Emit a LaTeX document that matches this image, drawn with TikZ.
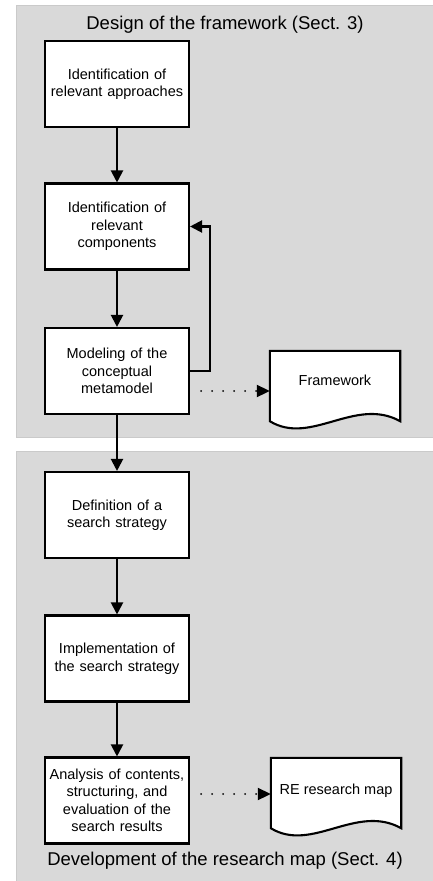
\documentclass[tikz,border=0pt]{standalone}
\usepackage{fontspec}
\setmainfont{Liberation Sans}
\usetikzlibrary{arrows.meta,calc}
\definecolor{panelfill}{HTML}{D9D9D9}
\definecolor{panelline}{HTML}{CACACA}
\begin{document}
\begin{tikzpicture}[x=1pt,y=-1pt,
  panelbox/.style={fill=panelfill,draw=panelline,line width=1pt},
  stepbox/.style={draw,line width=2.1pt,fill=white,minimum width=144pt,minimum height=86pt,
    text width=138pt,align=center,inner sep=0pt,font=\fontsize{14.5}{17.5}\selectfont},
  docbox/.style={draw=none,minimum width=130pt,minimum height=70pt,inner sep=0pt},
  docline/.style={draw,line width=2.1pt,fill=white,line join=miter},
  doctext/.style={font=\fontsize{14.5}{17.5}\selectfont},
  titletext/.style={font=\fontsize{18.5}{22}\selectfont,anchor=base},
  flow/.style={line width=2.1pt,-{Triangle[length=12pt,width=12pt]}},
  dotflow/.style={line width=2pt,line cap=round,dash pattern=on 0pt off 11pt,
    shorten <=11pt,-{Triangle[length=13pt,width=12pt]}}
]
\path[use as bounding box] (0,0) rectangle (433,881);
\path[panelbox] (16,5) rectangle (433.5,437);
\path[panelbox] (16,451) rectangle (433.5,882);

\node[titletext] (t1) at (225,29) {Design of the framework (Sect. 3)};
\node[titletext] (t2) at (225,865) {Development of the research map (Sect. 4)};

\node[stepbox] (s1) at (117,84) {Identification of\\relevant approaches};
\node[stepbox] (s2) at (117,226.5) {Identification of\\relevant\\components};
\node[stepbox] (s3) at (117,371) {Modeling of the\\conceptual\\metamodel};
\node[stepbox] (s4) at (117,515) {Definition of a\\search strategy};
\node[stepbox] (s5) at (117,658.5) {Implementation of\\the search strategy};
\node[stepbox] (s6) at (117,800.5) {Analysis of contents,\\structuring, and\\evaluation of the\\search results};

\node[docbox] (fw) at (335,386) {};
\node[docbox] (re) at (336,793) {};
\foreach \d in {fw,re}{
  \path[docline] (\d.south west) -- (\d.north west) -- (\d.north east) -- (\d.south east)
    .. controls ($(\d.south east)+(-45,-25)$) and ($(\d.south west)+(41,25)$) .. (\d.south west) -- cycle;
}
\node[doctext] (fwt) at ($(fw.center)+(0,-6)$) {Framework};
\node[doctext] (ret) at ($(re.center)+(0,-2)$) {RE research map};

\draw[flow] (s1) -- (s2);
\draw[flow] (s2) -- (s3);
\draw[flow] (s3) -- (s4);
\draw[flow] (s4) -- (s5);
\draw[flow] (s5) -- (s6);
\draw[flow] (s3.east) -- ++(20,0) |- (s2.east);

\coordinate (fwin) at ($(fw.west)+(0,5)$);
\coordinate (rein) at ($(re.west)+(0,1)$);
\draw[dotflow] (s3.east |- fwin) -- (fwin);
\draw[dotflow] (s6.east |- rein) -- (rein);
\end{tikzpicture}
\end{document}
